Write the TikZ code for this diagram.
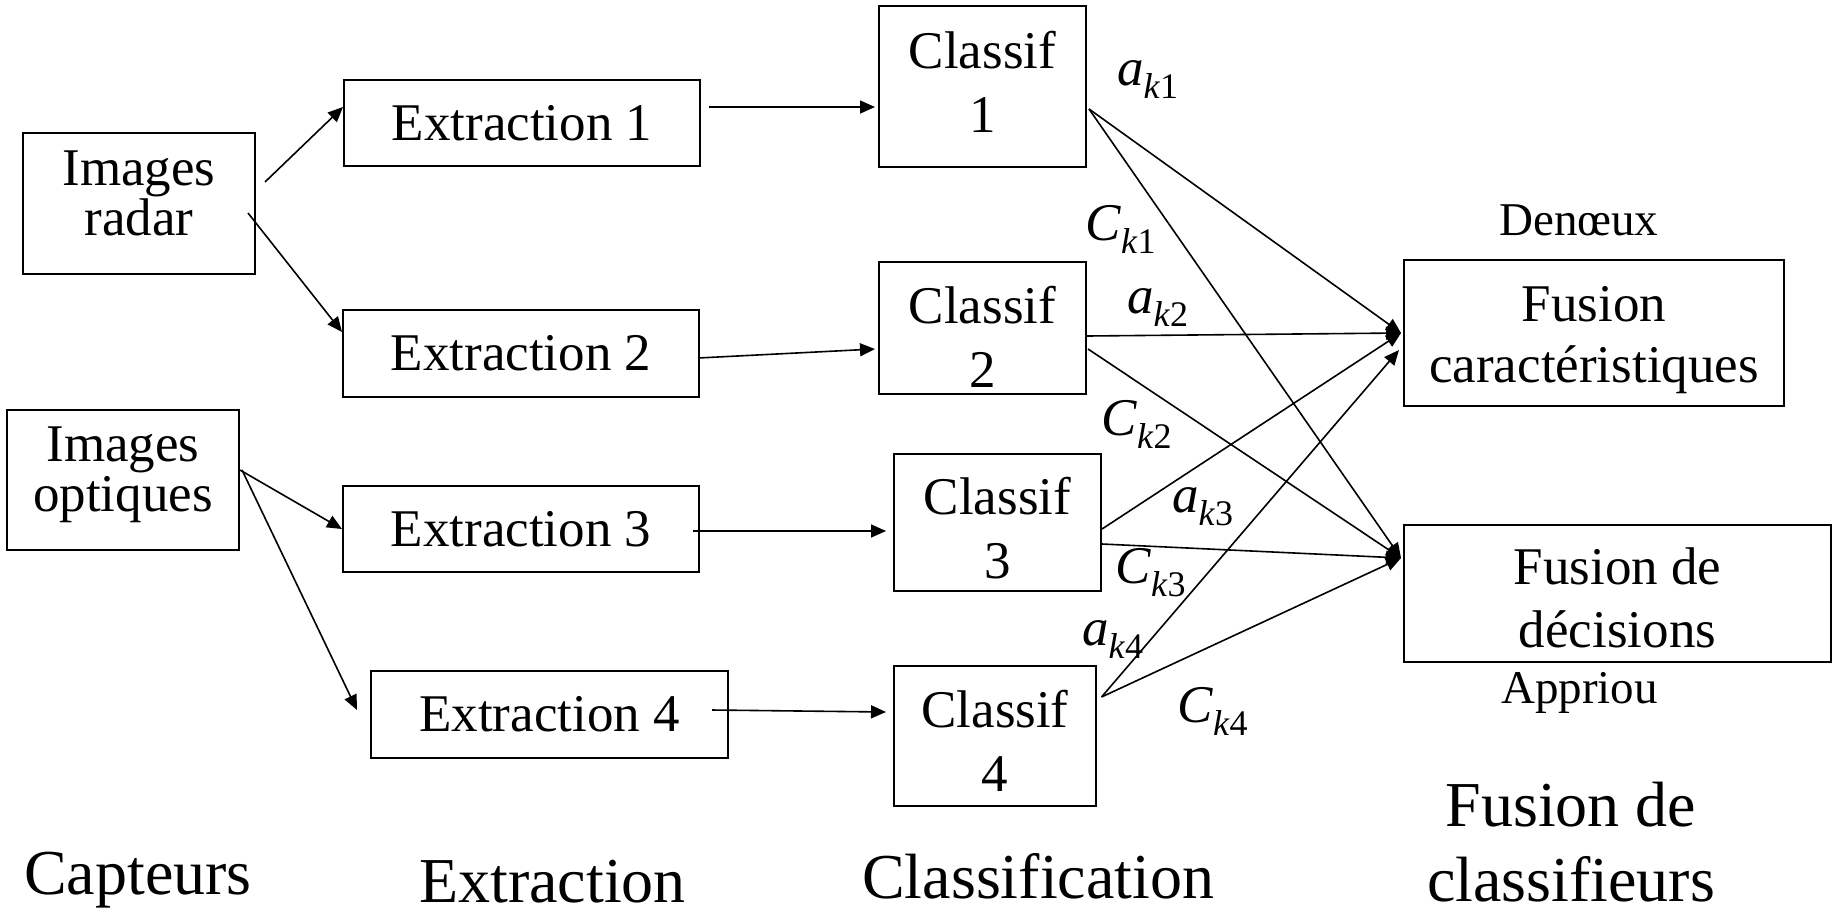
\documentclass[tikz,border=0pt]{standalone}
\usepackage{fontspec}
\setmainfont{Liberation Serif}
\usetikzlibrary{arrows.meta}
\newcommand\hautl[1]{\rule{0pt}{#1pt}}
\newcommand\basl[1]{\rule[-#1pt]{0pt}{#1pt}}
\newcommand\clab[2]{\textit{#1}\raisebox{-13pt}{\fontsize{36}{36}\selectfont\textit{k}#2}}
\begin{document}
\begin{tikzpicture}[x=1pt,y=-1pt,
	bloc/.style={draw,line width=2pt,align=center,inner sep=0pt,font=\fontsize{53}{64}\selectfont},
	fl/.style={line width=1.6pt,-{Triangle[length=15pt,width=13pt]}},
	etiq/.style={anchor=base west,inner sep=0pt,font=\fontsize{53}{53}\selectfont},
	titre/.style={anchor=base west,inner sep=0pt,font=\fontsize{64}{66}\selectfont}]
	\useasboundingbox (0,0) rectangle (1835,911);
	% capteurs
	\node[bloc,minimum width=232pt,minimum height=141pt,font=\fontsize{53}{50}\selectfont] (ir) at (139,203.5) {Images\\radar\basl{20}};
	\node[bloc,minimum width=232pt,minimum height=140pt,font=\fontsize{53}{50}\selectfont] (io) at (123,480) {Images\\optiques\basl{21}};
	% extraction
	\node[bloc,minimum width=356pt,minimum height=86pt] (e1) at (522,123) {Extraction 1};
	\node[bloc,minimum width=356pt,minimum height=87pt] (e2) at (521,353) {Extraction 2};
	\node[bloc,minimum width=356pt,minimum height=86pt] (e3) at (521,529) {Extraction 3};
	\node[bloc,minimum width=357pt,minimum height=87pt] (e4) at (549.5,714.5) {Extraction 4};
	% classifieurs
	\node[bloc,minimum width=207pt,minimum height=161pt] (c1) at (982.5,86.5) {Classif\\1\basl{9}};
	\node[bloc,minimum width=207pt,minimum height=132pt] (c2) at (982.5,328) {\hautl{54}Classif\\2};
	\node[bloc,minimum width=207pt,minimum height=137pt] (c3) at (997.5,522.5) {\hautl{49}Classif\\3};
	\node[bloc,minimum width=202pt,minimum height=140pt] (c4) at (995,736) {\hautl{46}Classif\\4};
	% fusion
	\node[bloc,minimum width=380pt,minimum height=146pt,font=\fontsize{53}{61}\selectfont] (fc) at (1594,333) {\hautl{50}Fusion\\caractéristiques};
	\node[bloc,minimum width=427pt,minimum height=137pt,font=\fontsize{53}{63}\selectfont] (fd) at (1617.5,593.5) {\hautl{46}Fusion de\\décisions};
	\node[anchor=base west,inner sep=0pt,font=\fontsize{47}{47}\selectfont] (den) at (1499,235) {Denœux};
	\node[anchor=base west,inner sep=0pt,font=\fontsize{47}{47}\selectfont] (app) at (1501,703) {Appriou};
	\coordinate (fc in) at ([xshift=-2pt]fc.west);
	\coordinate (fc in2) at ([xshift=-4pt,yshift=-17pt]fc.west);
	\coordinate (fd in) at ([xshift=-2pt,yshift=35.5pt]fd.west);
	% fleches
	\draw[fl] ([xshift=9pt,yshift=21.5pt]ir.east) -- ([yshift=16pt]e1.west);
	\draw[fl] ([xshift=-8pt,yshift=-9.5pt]ir.east) -- ([yshift=21pt]e2.west);
	\draw[fl] ([yshift=10pt]io.east) -- (e3.west);
	\draw[fl] ([xshift=2pt,yshift=10pt]io.east) -- ([xshift=-13pt,yshift=4.5pt]e4.west);
	\draw[fl] ([xshift=8pt,yshift=16pt]e1.east) -- ([xshift=-3pt,yshift=-20.5pt]c1.west);
	\draw[fl] ([xshift=-2pt,yshift=-5pt]e2.east) -- ([xshift=-3pt,yshift=-21pt]c2.west);
	\draw[fl] ([xshift=-7pt,yshift=-2pt]e3.east) -- ([xshift=-7pt,yshift=-8.5pt]c3.west);
	\draw[fl] ([xshift=-17pt,yshift=4.5pt]e4.east) -- ([xshift=-7pt,yshift=24pt]c4.west);
	\draw[fl] ([xshift=2pt,yshift=-22.5pt]c1.east) -- (fc in);
	\draw[fl] ([xshift=2pt,yshift=-22.5pt]c1.east) -- (fd in);
	\draw[fl] ([yshift=-8pt]c2.east) -- (fc in);
	\draw[fl] ([xshift=1pt,yshift=-21pt]c2.east) -- (fd in);
	\draw[fl] ([yshift=-6.5pt]c3.east) -- (fc in);
	\draw[fl] ([yshift=-21.5pt]c3.east) -- (fd in);
	\draw[fl] ([xshift=4.5pt,yshift=39pt]c4.east) -- (fc in2);
	\draw[fl] ([xshift=4.5pt,yshift=39pt]c4.east) -- (fd in);
	% coefficients
	\node[etiq] (ak1) at (1117,85) {\clab{a}{1}};
	\node[etiq] (ck1) at (1085,240) {\clab{C}{1}};
	\node[etiq] (ak2) at (1127,313) {\clab{a}{2}};
	\node[etiq] (ck2) at (1101,435) {\clab{C}{2}};
	\node[etiq] (ak3) at (1172,512) {\clab{a}{3}};
	\node[etiq] (ck3) at (1115,583) {\clab{C}{3}};
	\node[etiq] (ak4) at (1082,645) {\clab{a}{4}};
	\node[etiq] (ck4) at (1177,722) {\clab{C}{4}};
	% titres
	\node[titre] (capt) at (24,894) {Capteurs};
	\node[titre] (extr) at (419,902) {Extraction};
	\node[titre] (clas) at (862,898) {Classification};
	\node[align=center,inner sep=0pt,font=\fontsize{64}{75}\selectfont] (fus) at (1571,842) {Fusion de\\classifieurs};
\end{tikzpicture}
\end{document}
